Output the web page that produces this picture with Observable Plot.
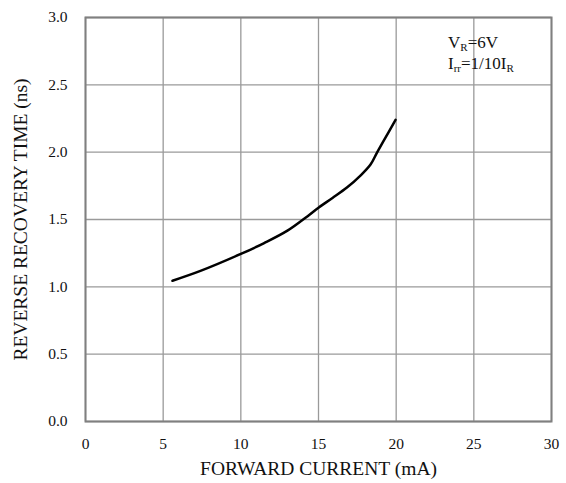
<!DOCTYPE html>
<html>
<head>
<meta charset="utf-8">
<script src="https://cdn.jsdelivr.net/npm/d3@7"></script>
<script src="https://cdn.jsdelivr.net/npm/@observablehq/plot@0.6"></script>
<style>
  html, body { margin: 0; padding: 0; background: #fff; }
  svg { font-family: "Liberation Serif", "Times New Roman", serif; }
</style>
</head>
<body>
<div id="chart"></div>
<script>
const forwardCurrent = [5.6, 7.4, 10.0, 11.5, 13.0, 14.3, 15.0, 15.9, 16.85, 17.7, 18.35, 18.75, 19.2, 19.96];
const recoveryTime   = [1.045, 1.118, 1.244, 1.325, 1.417, 1.525, 1.588, 1.66, 1.739, 1.826, 1.908, 1.993, 2.085, 2.24];
const xTicks = [0, 5, 10, 15, 20, 25, 30];
const yTicks = [0, 0.5, 1.0, 1.5, 2.0, 2.5, 3.0];
const xLabel = "FORWARD CURRENT (mA)";
const yLabel = "REVERSE RECOVERY TIME (ns)";

const data = forwardCurrent.map((x, i) => ({x, y: recoveryTime[i]}));
const font = "'Liberation Serif', 'Times New Roman', serif";

const plot = Plot.plot({
  width: 566,
  height: 483,
  marginLeft: 85,
  marginRight: 15,
  marginTop: 17,
  marginBottom: 62,
  style: {fontFamily: font, color: "#111", background: "#fff"},
  x: {domain: [0, 30]},
  y: {domain: [0, 3]},
  marks: [
    Plot.gridX(xTicks, {stroke: "#9a9a9a", strokeOpacity: 1, strokeWidth: 1.3}),
    Plot.gridY(yTicks, {stroke: "#9a9a9a", strokeOpacity: 1, strokeWidth: 1.3}),
    Plot.frame({stroke: "#808080", strokeWidth: 2}),
    Plot.axisX(xTicks, {tickSize: 0, tickPadding: 16, fontSize: 15.5, label: null, fill: "#111"}),
    Plot.axisY(yTicks, {tickSize: 0, tickPadding: 18, fontSize: 15.5, label: null, fill: "#111",
                        tickFormat: d3.format(".1f")}),
    Plot.text([xLabel], {text: d => d, frameAnchor: "bottom", lineAnchor: "middle", dy: 47,
                         fontSize: 19.5, fill: "#111"}),
    Plot.text([yLabel], {text: d => d, frameAnchor: "left", textAnchor: "middle", lineAnchor: "middle",
                         rotate: -90, dx: -64.5, fontSize: 19.5, fill: "#111"}),
    Plot.line(data, {x: "x", y: "y", curve: "catmull-rom", stroke: "#000", strokeWidth: 2.5})
  ]
});

document.getElementById("chart").appendChild(plot);

// annotation with subscripts, positioned through the scales
const sx = plot.scale("x"), sy = plot.scale("y");
const svg = d3.select(plot);
const g = svg.append("g").attr("text-anchor", "start")
  .style("font-size", "17px").style("font-family", font).attr("fill", "#111");
const t1 = g.append("text").attr("x", sx.apply(23.37)).attr("y", sy.apply(2.772));
t1.append("tspan").text("V");
t1.append("tspan").attr("dy", 3.5).style("font-size", "11px").text("R");
t1.append("tspan").attr("dy", -3.5).text("=6V");
const t2 = g.append("text").attr("x", sx.apply(23.37)).attr("y", sy.apply(2.615));
t2.append("tspan").text("I");
t2.append("tspan").attr("dy", 3.5).style("font-size", "11px").text("rr");
t2.append("tspan").attr("dy", -3.5).text("=1/10I");
t2.append("tspan").attr("dy", 3.5).style("font-size", "11px").text("R");
</script>
</body>
</html>
